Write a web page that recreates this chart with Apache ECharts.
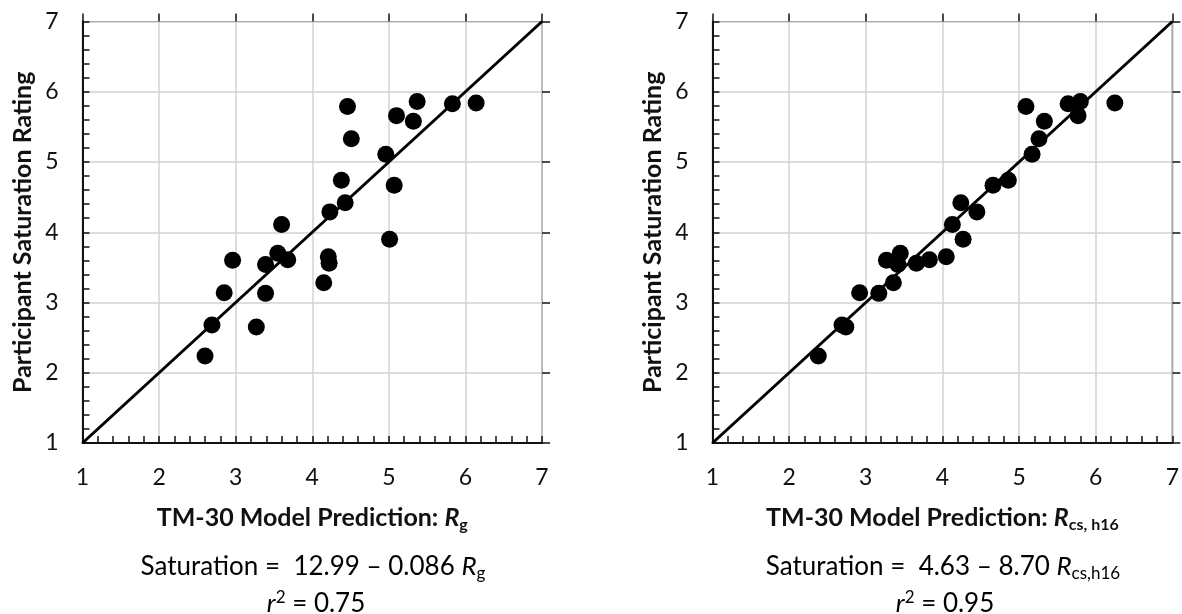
<!DOCTYPE html>
<html>
<head>
<meta charset="utf-8">
<title>Participant saturation rating vs TM-30 model prediction</title>
<script src="https://cdn.jsdelivr.net/npm/echarts@6/dist/echarts.min.js"></script>
<style>
  html, body { margin: 0; padding: 0; background: #fff; }
  #chart { width: 1182px; height: 614px; }
</style>
</head>
<body>
<div id="chart"></div>
<script>
// Axis range shared by both panels (rating scale 1–7)
const axisMin = 1;
const axisMax = 7;
const axisStep = 1;

// 1:1 reference line endpoints
const identityLine = [[1, 1], [7, 7]];

// Left panel: prediction from Rg vs participant rating
const rgPrediction = [2.60, 2.69, 2.85, 2.96, 3.27, 3.39, 3.39, 3.55, 3.60, 3.68, 4.15, 4.21, 4.22,
                      4.23, 4.38, 4.43, 4.46, 4.51, 4.96, 5.01, 5.07, 5.10, 5.32, 5.37, 5.83, 6.14];
const rgRating     = [2.24, 2.68, 3.14, 3.60, 2.65, 3.13, 3.54, 3.70, 4.11, 3.61, 3.28, 3.65, 3.56,
                      4.29, 4.74, 4.42, 5.79, 5.33, 5.11, 3.90, 4.67, 5.66, 5.58, 5.86, 5.83, 5.84];

// Right panel: prediction from Rcs,h16 vs participant rating
const rcsPrediction = [2.38, 2.69, 2.74, 2.92, 3.17, 3.36, 3.27, 3.45, 3.42, 3.66, 3.83, 4.05, 4.27,
                       4.13, 4.24, 4.45, 4.66, 4.86, 5.17, 5.09, 5.26, 5.33, 5.64, 5.80, 5.77, 6.25];
const rcsRating     = [2.24, 2.68, 2.65, 3.14, 3.13, 3.28, 3.60, 3.70, 3.54, 3.56, 3.61, 3.65, 3.90,
                       4.11, 4.42, 4.29, 4.67, 4.74, 5.11, 5.79, 5.33, 5.58, 5.83, 5.86, 5.66, 5.84];

// Text shown under each panel
const leftAxisTitle  = ['TM-30 Model Prediction: ', 'R', 'g'];
const rightAxisTitle = ['TM-30 Model Prediction: ', 'R', 'cs, h16'];
const yAxisTitle = 'Participant Saturation Rating';
const leftEquation  = ['Saturation =  12.99 \u2013 0.086 ', 'R', 'g'];
const rightEquation = ['Saturation =  4.63 \u2013 8.70 ', 'R', 'cs,h16'];
const leftFit  = '0.75';
const rightFit = '0.95';

const FONT = 'Lato, "Open Sans", sans-serif';
const INK = '#111';

const pairs = (xs, ys) => xs.map((x, i) => [x, ys[i]]);

const richBase = {
  b:   { fontFamily: FONT, fontWeight: 'bold', fontSize: 25, color: INK, lineHeight: 30 },
  bi:  { fontFamily: FONT, fontWeight: 'bold', fontStyle: 'italic', fontSize: 25, color: INK, lineHeight: 30 },
  bs:  { fontFamily: FONT, fontWeight: 'bold', fontSize: 16, color: INK, lineHeight: 15, verticalAlign: 'bottom' },
  n:   { fontFamily: FONT, fontSize: 26, color: INK, lineHeight: 30 },
  ni:  { fontFamily: FONT, fontStyle: 'italic', fontSize: 26, color: INK, lineHeight: 30 },
  ns:  { fontFamily: FONT, fontSize: 17, color: INK, lineHeight: 16, verticalAlign: 'bottom' },
  sup: { fontFamily: FONT, fontSize: 17, color: INK, lineHeight: 16, verticalAlign: 'top' }
};

const titleText = (p) => `{b|${p[0]}}{bi|${p[1]}}{bs|${p[2]}}`;
const eqText = (p) => `{n|${p[0]}}{ni|${p[1]}}{ns|${p[2]}}`;
const fitText = (v) => `{ni|r}{sup|2}{n| = ${v}}`;

function mainXAxis(gridIndex, nameParts) {
  return {
    type: 'value', gridIndex, min: axisMin, max: axisMax, interval: axisStep,
    name: titleText(nameParts), nameLocation: 'middle', nameGap: 60,
    nameTextStyle: { rich: richBase },
    axisLine: { show: true, onZero: false, lineStyle: { color: INK, width: 2 } },
    axisTick: { show: true, inside: true, length: 7, lineStyle: { color: INK, width: 1.5 } },
    minorTick: { show: true, splitNumber: 5, length: 7, lineStyle: { color: INK, width: 1.5 } },
    axisLabel: { margin: 23, fontFamily: FONT, fontSize: 23, color: INK },
    splitLine: { show: true, lineStyle: { color: '#d2d2d2', width: 1.5 } }
  };
}
function mainYAxis(gridIndex) {
  return {
    type: 'value', gridIndex, min: axisMin, max: axisMax, interval: axisStep,
    name: yAxisTitle, nameLocation: 'middle', nameGap: 47, nameRotate: 90,
    nameTextStyle: { fontFamily: FONT, fontWeight: 'bold', fontSize: 25, color: INK },
    axisLine: { show: true, onZero: false, lineStyle: { color: INK, width: 2 } },
    axisTick: { show: true, inside: true, length: 7, lineStyle: { color: INK, width: 1.5 } },
    minorTick: { show: true, splitNumber: 5, length: 7, lineStyle: { color: INK, width: 1.5 } },
    axisLabel: { margin: 24, fontFamily: FONT, fontSize: 23, color: INK },
    splitLine: { show: true, lineStyle: { color: '#d2d2d2', width: 1.5 } }
  };
}
// Second axis on each side carries only the outward half of the major ticks
function tickOnlyAxis(gridIndex) {
  return {
    type: 'value', gridIndex, min: axisMin, max: axisMax, interval: axisStep,
    axisLine: { show: false, onZero: false },
    axisTick: { show: true, inside: false, length: 8, lineStyle: { color: INK, width: 1.5 } },
    axisLabel: { show: false },
    splitLine: { show: false }
  };
}

function scatterSeries(xi, yi, data) {
  return {
    type: 'scatter', xAxisIndex: xi, yAxisIndex: yi, data,
    symbol: 'circle', symbolSize: 17,
    itemStyle: { color: '#000', opacity: 1 }, z: 3, silent: true
  };
}
function identitySeries(xi, yi) {
  return {
    type: 'line', xAxisIndex: xi, yAxisIndex: yi, data: identityLine,
    symbol: 'none', lineStyle: { color: '#000', width: 3 }, z: 2, silent: true
  };
}

const chart = echarts.init(document.getElementById('chart'), null, { renderer: 'canvas' });

chart.setOption({
  backgroundColor: '#fff',
  animation: false,
  grid: [
    { left: 82.5, right: 640, top: 21.5, bottom: 171, show: true, borderColor: '#333', borderWidth: 1.2, backgroundColor: 'transparent' },
    { left: 712.5, right: 9.5, top: 21.5, bottom: 171, show: true, borderColor: '#333', borderWidth: 1.2, backgroundColor: 'transparent' }
  ],
  xAxis: [mainXAxis(0, leftAxisTitle), mainXAxis(1, rightAxisTitle), tickOnlyAxis(0), tickOnlyAxis(1)],
  yAxis: [mainYAxis(0), mainYAxis(1), tickOnlyAxis(0), tickOnlyAxis(1)],
  series: [
    identitySeries(0, 0),
    scatterSeries(0, 0, pairs(rgPrediction, rgRating)),
    identitySeries(1, 1),
    scatterSeries(1, 1, pairs(rcsPrediction, rcsRating))
  ],
  graphic: [
    { type: 'text', x: 313, y: 552, style: { text: eqText(leftEquation), rich: richBase, align: 'center', verticalAlign: 'top' } },
    { type: 'text', x: 316, y: 589, style: { text: fitText(leftFit), rich: richBase, align: 'center', verticalAlign: 'top' } },
    { type: 'text', x: 943, y: 552, style: { text: eqText(rightEquation), rich: richBase, align: 'center', verticalAlign: 'top' } },
    { type: 'text', x: 945, y: 589, style: { text: fitText(rightFit), rich: richBase, align: 'center', verticalAlign: 'top' } }
  ]
});
</script>
</body>
</html>
